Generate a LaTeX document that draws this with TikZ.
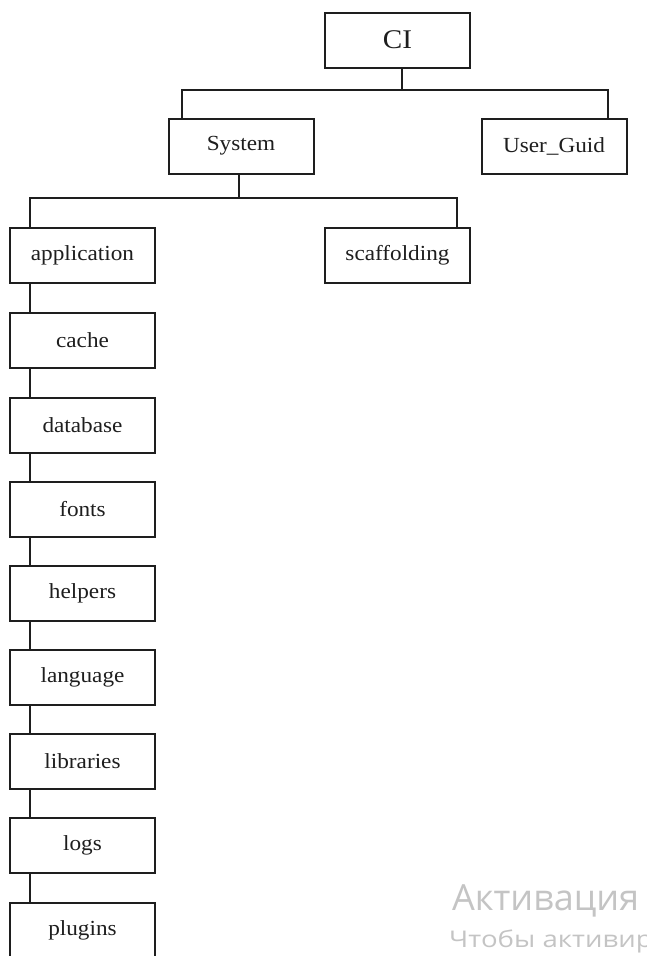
\documentclass[tikz,border=0pt]{standalone}
\usepackage{graphicx}
\usepackage{fontspec}
\setmainfont{Liberation Serif}
\newfontfamily\wmfont{Open Sans}
\definecolor{ink}{HTML}{1E1E1E}
\definecolor{wmgray}{HTML}{C4C4C4}
% slightly widened label text
\newcommand\widelabel[1]{\scalebox{1.08}[1]{#1}}
\tikzset{
  dirbox/.style={draw=ink, line width=2pt, minimum width=145pt, minimum height=55pt,
    inner sep=0pt, text=ink, font=\fontsize{21.5}{24}\selectfont},
  link/.style={draw=ink, line width=2pt},
  wmark/.style={text=wmgray, anchor=base west, inner sep=0pt}
}
\begin{document}
\begin{tikzpicture}[x=1pt,y=-1pt]
  \useasboundingbox (0,0) rectangle (646,956);
  \clip (0,0) rectangle (646,956);
  \fill[white] (0,0) rectangle (646,956);

  % top level
  \node[dirbox, font=\fontsize{27}{30}\selectfont] (ci) at (397.5,40) {\widelabel{CI}};
  \node[dirbox] (sys) at (241,146) {\widelabel{System}};
  \node[dirbox] (ugd) at (554,146) {\widelabel{User\_Guid}};

  % contents of System
  \node[dirbox] (app) at (82.5,255) {\widelabel{application}};
  \node[dirbox] (scf) at (397.5,255) {\widelabel{scaffolding}};
  \node[dirbox] (cache) at (82.5,340) {\widelabel{cache}};
  \node[dirbox] (db) at (82.5,425) {\widelabel{database}};
  \node[dirbox] (fonts) at (82.5,509) {\widelabel{fonts}};
  \node[dirbox] (help) at (82.5,593) {\widelabel{helpers}};
  \node[dirbox] (lang) at (82.5,677) {\widelabel{language}};
  \node[dirbox] (libs) at (82.5,761) {\widelabel{libraries}};
  \node[dirbox] (logs) at (82.5,845) {\widelabel{logs}};
  \node[dirbox] (plug) at (82.5,930) {\widelabel{plugins}};

  % CI -> System, User_Guid
  \coordinate (busA) at (402,90);
  \draw[link] (ci.south -| busA) -- (busA);
  \draw[link] ([xshift=14pt]sys.north west) |- (busA) -| ([xshift=-20pt]ugd.north east);

  % System -> application, scaffolding
  \coordinate (busB) at (239,198);
  \draw[link] (sys.south -| busB) -- (busB);
  \draw[link] ([xshift=21pt]app.north west) |- (busB) -| ([xshift=-14pt]scf.north east);

  % chain of folders under application
  \foreach \a/\b in {app/cache, cache/db, db/fonts, fonts/help, help/lang, lang/libs, libs/logs, logs/plug}
    \draw[link] ([xshift=21pt]\a.south west) -- ([xshift=21pt]\b.north west);

  % system watermark
  \node[wmark, font=\wmfont\fontsize{36}{40}\selectfont] (wm1) at (452,910) {Активация};
  \node[wmark, font=\wmfont\fontsize{23}{26}\selectfont] (wm2) at (449,947)
    {\scalebox{1.2}[1]{Чтобы активировать}};
\end{tikzpicture}
\end{document}
